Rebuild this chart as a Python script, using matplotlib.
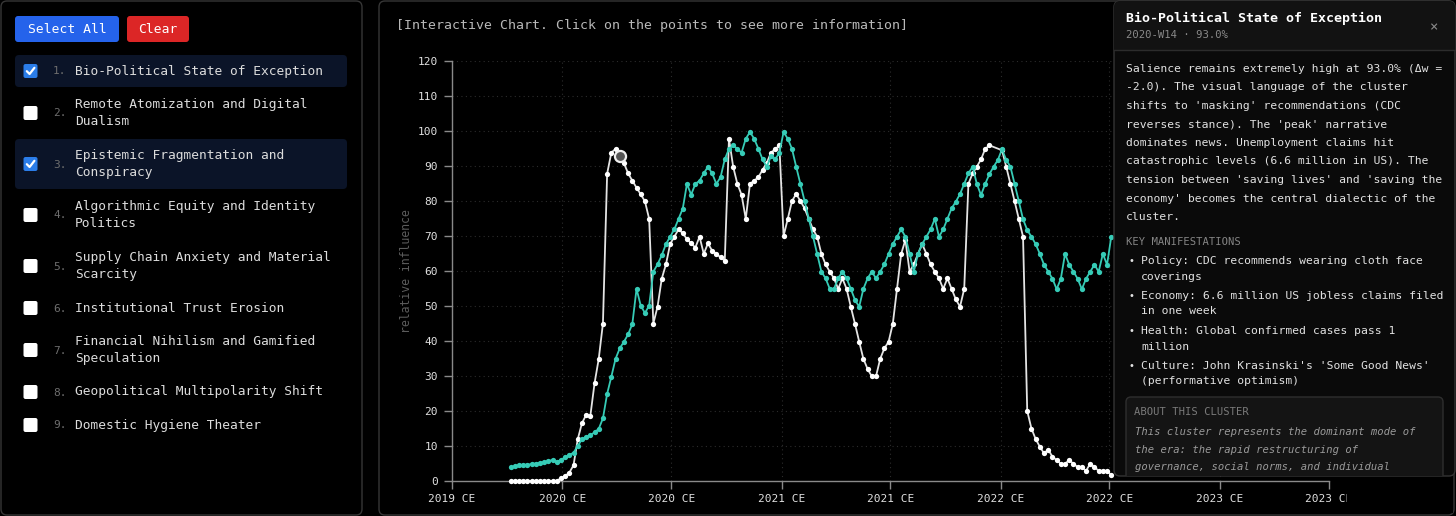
import textwrap
import matplotlib
matplotlib.use('Agg')
import matplotlib.pyplot as plt
from matplotlib.patches import FancyBboxPatch, Rectangle
import numpy as np
import pandas as pd

plt.rcParams['font.family'] = ['DejaVu Sans Mono']

# ─── data (weekly salience) ─────────────────────────────────────────────
start_week = '2019-10-07'

bio_political = [
    0, 0, 0, 0, 0, 0, 0, 0, 0, 0, 0, 0,
    0.8, 1.4, 2.4, 4.5, 11.9, 16.5, 18.9, 18.6, 27.9, 34.9, 45.0, 87.8,
    93.8, 94.9, 93.0, 90.8, 87.9, 85.8, 83.8, 81.9, 79.9, 74.9, 45.0, 49.8,
    57.8, 61.9, 67.7, 69.8, 71.9, 70.8, 69.1, 67.9, 66.7, 69.8, 64.9, 67.9,
    65.8, 64.9, 63.9, 62.9, 97.8, 89.8, 84.9, 81.8, 74.9, 84.9, 85.8, 86.8,
    88.9, 90.9, 93.8, 94.8, 95.9, 70.0, 74.9, 80.0, 82.0, 80.0, 77.9, 74.9,
    71.9, 69.8, 64.9, 61.9, 59.8, 57.9, 54.9, 57.9, 54.9, 49.8, 44.9, 39.8,
    34.9, 32.0, 29.9, 29.9, 34.9, 37.9, 39.8, 44.9, 54.9, 64.9, 68.9, 59.8,
    61.9, 64.9, 67.7, 64.9, 61.9, 59.8, 57.9, 54.9, 57.9, 54.9, 51.9, 49.8,
    54.9, 84.9, 87.9, 89.8, 91.9, 94.9, 95.9, None, None, 94.5, 89.8, 84.9,
    79.9, 74.8, 69.8, 20.0, 15.0, 12.0, 9.8, 7.9, 9.0, 6.9, 6.0, 4.9,
    4.9, 6.0, 4.9, 4.0, 4.0, 2.9, 5.0, 4.0, 2.9, 2.9, 2.9, 1.7,
]

epistemic = [
    3.9, 4.2, 4.5, 4.5, 4.7, 4.8, 5.0, 5.2, 5.3, 5.7, 6.0, 5.5,
    6.0, 6.8, 7.4, 8.1, 10.0, 11.9, 12.6, 13.1, 13.9, 14.9, 17.9, 24.9,
    29.8, 34.9, 37.9, 39.8, 41.9, 44.9, 54.9, 50.1, 48.0, 50.1, 59.8, 61.9,
    64.5, 67.7, 69.8, 71.9, 74.9, 77.8, 84.9, 81.8, 84.9, 85.8, 87.9, 89.8,
    87.9, 84.9, 86.8, 91.9, 94.9, 95.9, 94.9, 93.8, 97.8, 99.7, 97.8, 94.9,
    91.9, 89.8, 92.8, 91.9, 93.8, 99.7, 97.8, 94.9, 89.8, 84.9, 80.0, 74.9,
    69.9, 64.9, 59.8, 57.9, 54.9, 54.9, 57.9, 59.8, 57.9, 54.9, 51.7, 49.8,
    54.9, 57.9, 59.8, 57.9, 59.8, 61.9, 64.9, 67.7, 69.8, 71.9, 69.8, 64.9,
    59.8, 64.9, 67.7, 69.8, 71.9, 74.9, 69.8, 71.9, 74.9, 77.9, 79.8, 82.0,
    84.9, 87.9, 89.8, 84.9, 81.7, 84.9, 87.7, 89.8, 91.7, 94.8, 91.7, 89.8,
    84.9, 79.9, 74.8, 71.7, 69.8, 67.7, 64.9, 61.8, 59.8, 57.8, 54.8, 57.8,
    64.9, 61.8, 59.8, 57.8, 54.8, 57.8, 59.8, 61.8, 59.8, 64.9, 61.8, 69.8,
]

selected_idx = 26           # 2020-W14
selected_label = '2020-W14'

tick_dates = ['2019-07-01', '2020-01-01', '2020-07-01', '2021-01-01', '2021-07-01',
              '2022-01-01', '2022-07-01', '2023-01-01', '2023-07-01']
tick_labels = ['2019 CE', '2020 CE', '2020 CE', '2021 CE', '2021 CE',
               '2022 CE', '2022 CE', '2023 CE', '2023 CE']
y_ticks = [0, 10, 20, 30, 40, 50, 60, 70, 80, 90, 100, 110, 120]

clusters = ['Bio-Political State of Exception',
            'Remote Atomization and Digital Dualism',
            'Epistemic Fragmentation and Conspiracy',
            'Algorithmic Equity and Identity Politics',
            'Supply Chain Anxiety and Material Scarcity',
            'Institutional Trust Erosion',
            'Financial Nihilism and Gamified Speculation',
            'Geopolitical Multipolarity Shift',
            'Domestic Hygiene Theater']
checked = [True, False, True, False, False, False, False, False, False]

body_lines = [
    "Salience remains extremely high at 93.0% (\u0394w =",
    "-2.0). The visual language of the cluster",
    "shifts to 'masking' recommendations (CDC",
    "reverses stance). The 'peak' narrative",
    "dominates news. Unemployment claims hit",
    "catastrophic levels (6.6 million in US). The",
    "tension between 'saving lives' and 'saving the",
    "economy' becomes the central dialectic of the",
    "cluster.",
]
manifestations = [
    ["Policy: CDC recommends wearing cloth face", "coverings"],
    ["Economy: 6.6 million US jobless claims filed", "in one week"],
    ["Health: Global confirmed cases pass 1", "million"],
    ["Culture: John Krasinski's 'Some Good News'", "(performative optimism)"],
]
about_lines = [
    "This cluster represents the dominant mode of",
    "the era: the rapid restructuring of",
    "governance, social norms, and individual",
]

TEAL = '#36cbb6'
W, H = 1456, 516

fig = plt.figure(figsize=(W / 100, H / 100), dpi=100)
fig.patch.set_facecolor('black')

# ─── background layer in pixel coords ───────────────────────────────────
bg = fig.add_axes([0, 0, 1, 1], zorder=0)
bg.set_xlim(0, W); bg.set_ylim(H, 0); bg.axis('off')

def rbox(a, x, y, w, h, fc, ec='none', r=6, lw=1.0, z=1):
    p = FancyBboxPatch((x, y), w, h, boxstyle=f'round,pad=0,rounding_size={r}',
                       fc=fc, ec=ec, lw=lw, zorder=z)
    a.add_patch(p)
    return p

rbox(bg, 1, 1, 361, 514, 'black', '#363636')
rbox(bg, 379, 1, 1075, 514, 'black', '#363636')

# buttons
rbox(bg, 15, 16, 104, 26, '#2563eb', r=3)
bg.text(67, 29.5, 'Select All', color='white', fontsize=9.4, ha='center', va='center')
rbox(bg, 127, 16, 62, 26, '#dc2626', r=3)
bg.text(158, 29.5, 'Clear', color='white', fontsize=9.4, ha='center', va='center')

# cluster list
y = 54.5
for i, (name, on) in enumerate(zip(clusters, checked)):
    lines = textwrap.wrap(name, 33)
    h = 33 if len(lines) == 1 else 51
    yc = y + h / 2
    if on:
        rbox(bg, 15, y + 0.5, 332, h - 1, '#0b1428', r=4)
        rbox(bg, 23.5, yc - 7, 14, 14, '#2b7de9', r=2, z=3)
        bg.plot([26.8, 29.6, 34.4], [yc + 0.2, yc + 3, yc - 3.2], color='white',
                lw=1.6, solid_capstyle='round', zorder=4)
    else:
        rbox(bg, 23.5, yc - 7, 14, 14, 'white', r=2, z=3)
    bg.text(53, yc + 0.5, f'{i + 1}.', color='#6e6e6e', fontsize=8,
            ha='left', va='center')
    for j, ln in enumerate(lines):
        dy = 0 if len(lines) == 1 else (j - 0.5) * 17.5
        bg.text(75, yc + dy, ln, color='#dcdcdc', fontsize=9.3,
                ha='left', va='center')
    y += h

bg.text(396, 25, '[Interactive Chart. Click on the points to see more information]',
        color='#b8b8b8', fontsize=9.5, ha='left', va='center')
bg.text(407, 271, 'relative influence', color='#5c5c5c', fontsize=8.3,
        rotation=90, ha='center', va='center')

# ─── chart ──────────────────────────────────────────────────────────────
x0, x1, ytop, ybot = 451.7, 1328.5, 61, 481
ax = fig.add_axes([x0 / W, (H - ybot) / H, (x1 - x0) / W, (ybot - ytop) / H], zorder=1)
ax.set_facecolor('none')

dates = pd.date_range(start_week, periods=len(epistemic), freq='7D')
bio = np.array([np.nan if v is None else v for v in bio_political], dtype=float)
ok = ~np.isnan(bio)

ax.plot(dates[ok], bio[ok], '-o', color='#e4e4e4', lw=1.3, ms=3.8,
        mfc='white', mec='white', mew=0, clip_on=False, zorder=3)
ax.plot(dates, epistemic, '-o', color=TEAL, lw=1.3, ms=3.8,
        mfc=TEAL, mec=TEAL, mew=0, clip_on=False, zorder=4)
ax.plot([dates[selected_idx]], [bio[selected_idx]], 'o', ms=8, mfc='#555555',
        mec='#f0f0f0', mew=1.6, clip_on=False, zorder=6)

ax.set_xlim(pd.Timestamp(tick_dates[0]), pd.Timestamp(tick_dates[-1]))
ax.set_ylim(0, 120)
ax.set_xticks([pd.Timestamp(d) for d in tick_dates])
ax.set_xticklabels(tick_labels)
ax.set_yticks(y_ticks)
ax.set_yticklabels([str(v) for v in y_ticks])

for s in ['top', 'right']:
    ax.spines[s].set_visible(False)
for s in ['left', 'bottom']:
    ax.spines[s].set_color('#8a8a8a'); ax.spines[s].set_linewidth(1.0)
ax.tick_params(axis='both', colors='#8a8a8a', labelcolor='#e0e0e0', length=6,
               width=1, labelsize=8)
ax.tick_params(axis='x', pad=3)
ax.tick_params(axis='y', pad=4)
ax.grid(True, color='#2c2c2c', lw=0.8, linestyle=(0, (1, 3)))
ax.set_axisbelow(True)

# ─── info panel on top ──────────────────────────────────────────────────
tip = fig.add_axes([0, 0, 1, 1], zorder=5)
tip.set_xlim(0, W); tip.set_ylim(H, 0); tip.axis('off')
tip.patch.set_alpha(0)

# clip of the svg area on the right
tip.add_patch(Rectangle((1347, 478), 106, 35, fc='black', ec='none', zorder=0))

panel = rbox(tip, 1114, 1, 341, 475, '#0a0a0a', '#343434', r=6, z=1)
hdr = Rectangle((1114, 1), 341, 49, fc='#121212', ec='none', zorder=1.5)
tip.add_patch(hdr); hdr.set_clip_path(panel)
tip.plot([1114, 1455], [50, 50], color='#2c2c2c', lw=1, zorder=2)

tip.text(1126, 18, 'Bio-Political State of Exception', color='white', fontsize=9.5,
         fontweight='bold', ha='left', va='center', zorder=3)
tip.text(1126, 35.5, f'{selected_label} \u00b7 {bio[selected_idx]:.1f}%', color='#8a8a8a',
         fontsize=7.6, ha='left', va='center', zorder=3)
tip.text(1434, 27, '\u00d7', color='#8a8a8a', fontsize=10, ha='center', va='center', zorder=3)

for i, ln in enumerate(body_lines):
    tip.text(1126, 69 + i * 18.5, ln, color='#e2e2e2', fontsize=8.2,
             ha='left', va='center', zorder=3)

tip.text(1126, 242, 'KEY MANIFESTATIONS', color='#858585', fontsize=7.6,
         ha='left', va='center', zorder=3)
for i, pair in enumerate(manifestations):
    yy = 261 + i * 35
    tip.text(1131, yy, '\u2022', color='#e2e2e2', fontsize=7, ha='center',
             va='center', zorder=3)
    for j, ln in enumerate(pair):
        tip.text(1141, yy + j * 15.5, ln, color='#e2e2e2', fontsize=8.2,
                 ha='left', va='center', zorder=3)

about = rbox(tip, 1126, 397, 317, 100, '#141414', '#2e2e2e', r=5, z=2)
about.set_clip_path(panel)
tip.text(1134, 412, 'ABOUT THIS CLUSTER', color='#7a7a7a', fontsize=7.6,
         ha='left', va='center', zorder=3)
for i, ln in enumerate(about_lines):
    tip.text(1135, 432 + i * 17.7, ln, color='#9a9a9a', fontsize=7.6,
             style='italic', ha='left', va='center', zorder=3)

fig.savefig('out.png', dpi=100, facecolor='black')
